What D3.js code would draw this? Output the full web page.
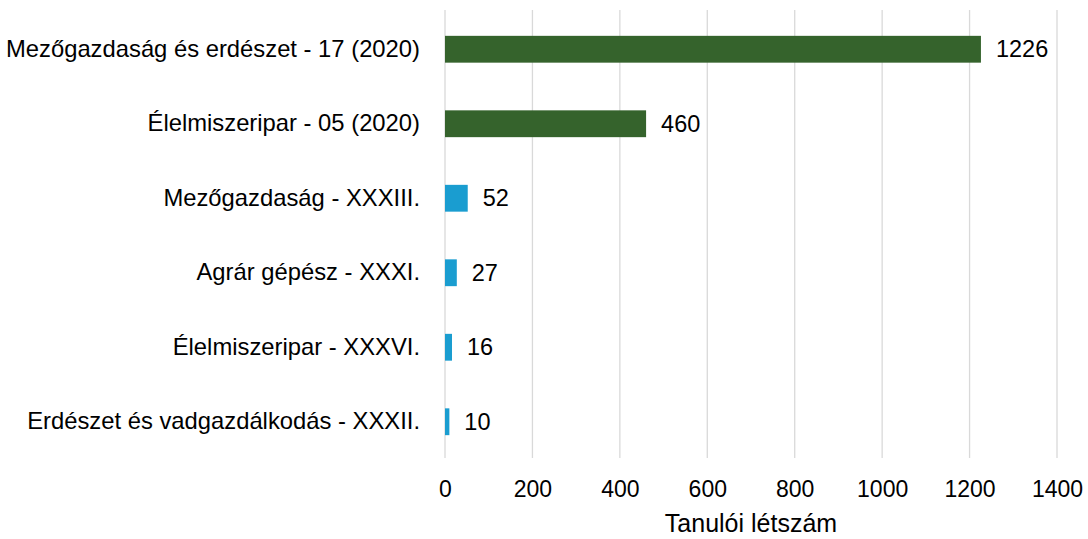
<!DOCTYPE html>
<html>
<head>
<meta charset="utf-8">
<script src="https://cdn.jsdelivr.net/npm/d3@7"></script>
<style>
  html, body { margin: 0; padding: 0; background: #fff; }
  svg text { font-family: "Liberation Sans", Arial, sans-serif; fill: #000; }
</style>
</head>
<body>
<svg id="chart" width="1088" height="539"></svg>
<script>
// Programmes and student counts
const categories = [
  "Mezőgazdaság és erdészet - 17 (2020)",
  "Élelmiszeripar - 05 (2020)",
  "Mezőgazdaság - XXXIII.",
  "Agrár gépész - XXXI.",
  "Élelmiszeripar - XXXVI.",
  "Erdészet és vadgazdálkodás - XXXII."
];
const values = [1226, 460, 52, 27, 16, 10];
// new-style sectors (2020) vs. older numbered sectors
const groups = ["new", "new", "old", "old", "old", "old"];
const xTicks = [0, 200, 400, 600, 800, 1000, 1200, 1400];
const xTitle = "Tanulói létszám";

const colors = { new: "#35632c", old: "#1a9dd0" };
const FONT = "Liberation Sans, Arial, sans-serif";

const svg = d3.select("#chart");
const plotLeft = 445, plotRight = 1057, plotTop = 12, plotBottom = 459;

const x = d3.scaleLinear().domain([0, 1400]).range([plotLeft, plotRight]);
const y = d3.scaleBand().domain(categories).range([plotTop, plotBottom]).paddingInner(0.64).paddingOuter(0.32);

// vertical gridlines
svg.append("g").selectAll("line").data(xTicks).join("line")
  .attr("x1", d => x(d)).attr("x2", d => x(d))
  .attr("y1", 10).attr("y2", 458)
  .attr("stroke", "#d9d9d9").attr("stroke-width", 1.3);

// x axis labels
const xAxis = d3.axisBottom(x).tickValues(xTicks).tickFormat(d3.format("d")).tickSize(0).tickPadding(0);
const gx = svg.append("g").attr("transform", `translate(0,${plotBottom + 22})`).call(xAxis);
gx.select(".domain").remove();
gx.selectAll("text").attr("font-size", 23).attr("font-family", FONT).attr("fill", "#000");

// category labels
const yAxis = d3.axisLeft(y).tickSize(0).tickPadding(0);
const gy = svg.append("g").attr("transform", `translate(${plotLeft - 25},0)`).call(yAxis);
gy.select(".domain").remove();
gy.selectAll("text").attr("font-size", 23.8).attr("font-family", FONT).attr("fill", "#000");

// bars
svg.append("g").selectAll("rect").data(values).join("rect")
  .attr("x", x(0))
  .attr("y", (d, i) => y(categories[i]))
  .attr("width", d => x(d) - x(0))
  .attr("height", y.bandwidth())
  .attr("fill", (d, i) => colors[groups[i]]);

// value labels
svg.append("g").selectAll("text").data(values).join("text")
  .attr("x", d => x(d) + 15)
  .attr("y", (d, i) => y(categories[i]) + y.bandwidth() / 2)
  .attr("dy", "0.35em")
  .attr("font-size", 23.5)
  .text(d => d);

// axis title
svg.append("text")
  .attr("x", (plotLeft + plotRight) / 2)
  .attr("y", 532)
  .attr("text-anchor", "middle")
  .attr("font-size", 25)
  .text(xTitle);
</script>
</body>
</html>
